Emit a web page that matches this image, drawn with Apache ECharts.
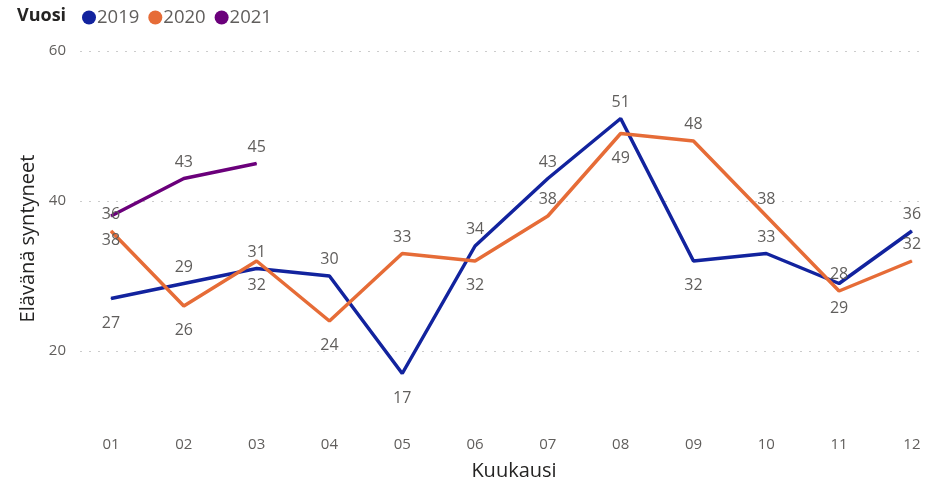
<!DOCTYPE html>
<html><head><meta charset="utf-8">
<script src="https://cdn.jsdelivr.net/npm/echarts@6/dist/echarts.min.js"></script>
<style>html,body{margin:0;padding:0;background:#fff}#c{width:926px;height:486px}</style>
</head><body><div id="c"></div>
<script>
var months = ['01','02','03','04','05','06','07','08','09','10','11','12'];
var years = ['2019','2020','2021'];
var v2019 = [27,29,31,30,17,34,43,51,32,33,29,36];
var v2020 = [36,26,32,24,33,32,38,49,48,38,28,32];
var v2021 = [38,43,45];
var pos2019 = ['bottom','top','top','top','bottom','top','top','top','bottom','top','bottom','top'];
var pos2020 = ['top','bottom','bottom','bottom','top','bottom','top','bottom','top','top','top','top'];
var pos2021 = ['bottom','top','top'];
var yTicks = [20,40,60];
var colors = ['#12239E','#E66C37','#6B007B'];

var font = '"Open Sans", "Segoe UI", sans-serif';
function mk(vals, pos){
  return vals.map(function(v,i){
    return {value:[i+1, v], label:{position:pos[i], distance: pos[i]==='top'?8:16}};
  });
}
function series(name, vals, pos, color){
  return {
    name:name, type:'line', data:mk(vals,pos),
    symbol:'circle', symbolSize:1, showSymbol:true,
    itemStyle:{color:color},
    lineStyle:{color:color, width:3.5},
    label:{show:true, color:'#605E5C', fontSize:16, fontFamily:font, formatter:function(p){return p.value[1];}},
    emphasis:{disabled:true}, animation:false
  };
}
var chart = echarts.init(document.getElementById('c'));
chart.setOption({
  animation:false,
  title:{text:'Vuosi', left:17, top:7, padding:0, textStyle:{fontSize:18, fontWeight:'bold', color:'#252423', fontFamily:font}},
  legend:{data:years, left:82, top:8, padding:0, icon:'circle', itemWidth:14, itemHeight:14, itemGap:9,
    textStyle:{fontSize:18.5, color:'#605E5C', fontFamily:font, padding:[0,0,0,-4]}},
  grid:{left:80, right:1, top:51, bottom:60, containLabel:false},
  xAxis:{type:'value', min:0.574, max:12.18,
    name:'Kuukausi', nameLocation:'middle', nameGap:35,
    nameTextStyle:{fontSize:20, color:'#252423', fontFamily:font, padding:[0,0,0,23]},
    axisLine:{show:false}, axisTick:{show:false}, splitLine:{show:false},
    axisLabel:{customValues:[1,2,3,4,5,6,7,8,9,10,11,12], margin:11, fontSize:15, color:'#605E5C', fontFamily:font,
      formatter:function(v){return months[Math.round(v)-1];}}
  },
  yAxis:{type:'value', min:10, max:60,
    name:'Elävänä syntyneet', nameLocation:'middle', nameGap:42,
    nameTextStyle:{fontSize:20, color:'#252423', fontFamily:font},
    axisLine:{show:false},
    axisTick:{show:false, customValues:yTicks},
    axisLabel:{customValues:yTicks, margin:14, fontSize:15, color:'#605E5C', fontFamily:font},
    splitLine:{show:true, lineStyle:{color:'#CCCCCC', type:[2,7], width:1}}
  },
  series:[
    series('2019', v2019, pos2019, colors[0]),
    series('2020', v2020, pos2020, colors[1]),
    series('2021', v2021, pos2021, colors[2])
  ]
});
</script></body></html>
